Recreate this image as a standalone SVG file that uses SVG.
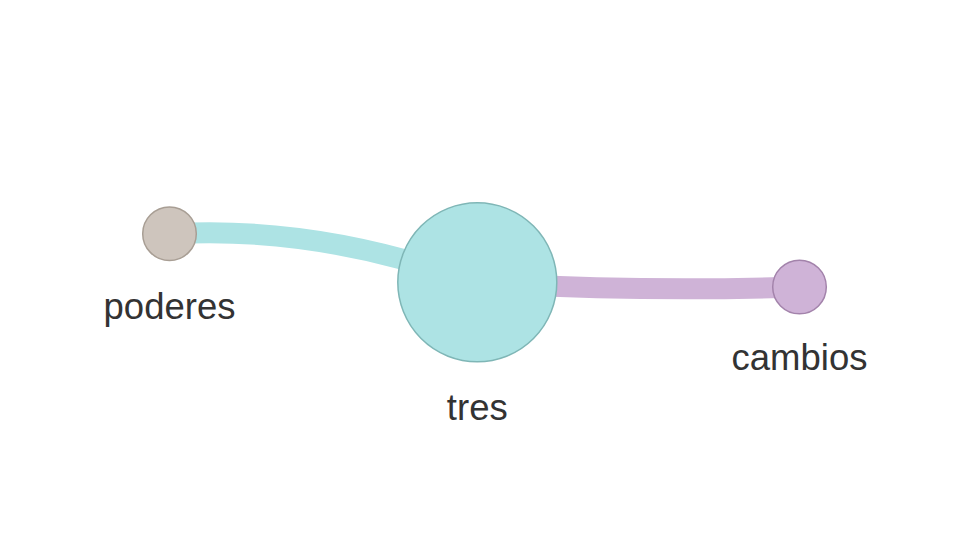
<svg xmlns="http://www.w3.org/2000/svg" width="966" height="544" viewBox="0 0 966 544">
<style>
.edge{fill:none;stroke-width:21}
.lbl{font-family:"Liberation Sans",Arial,sans-serif;font-size:36.5px;fill:#333;text-anchor:middle}
</style>
<rect width="966" height="544" fill="#fff"/>
<g id="edges">
<path class="edge" stroke="#ade3e4" d="M169,234 Q320,225 477,283"/>
<path class="edge" stroke="#cfb3d7" d="M477,283 Q640,292 800,287"/>
</g>
<g id="node-poderes">
<circle cx="169.5" cy="233.7" r="26.8" fill="#cec5bd" stroke="#a89e94" stroke-width="1.5"/>
<text class="lbl" x="169.5" y="318.5">poderes</text>
</g>
<g id="node-tres">
<circle cx="477.3" cy="282.3" r="79.5" fill="#ade3e4" stroke="#7fb6b6" stroke-width="1.5"/>
<text class="lbl" x="477.3" y="420">tres</text>
</g>
<g id="node-cambios">
<circle cx="799.5" cy="287" r="26.8" fill="#cfb3d7" stroke="#a383ab" stroke-width="1.5"/>
<text class="lbl" x="799.5" y="370">cambios</text>
</g>
</svg>
